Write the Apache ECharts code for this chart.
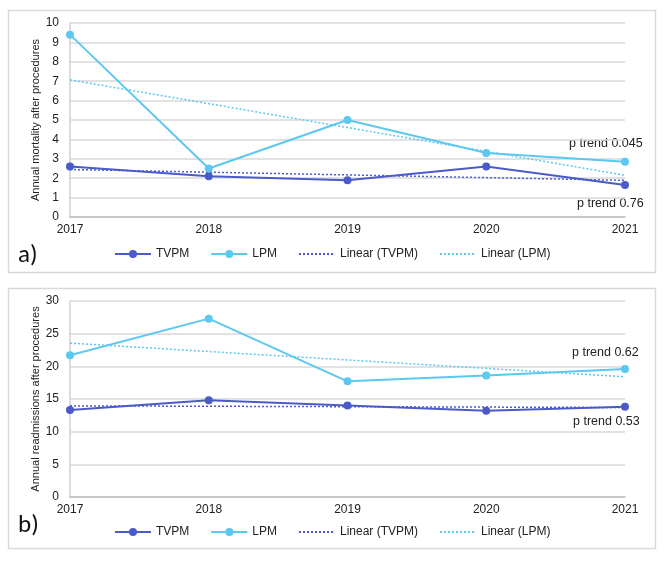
<!DOCTYPE html>
<html>
<head>
<meta charset="utf-8">
<script src="https://cdn.jsdelivr.net/npm/echarts@6/dist/echarts.min.js"></script>
<style>
html,body{margin:0;padding:0;background:#fff;}
#c{width:669px;height:573px;}
</style>
</head>
<body>
<div id="c"></div>
<script>
var years = ['2017', '2018', '2019', '2020', '2021'];
var mortTVPM = [2.6, 2.1, 1.9, 2.6, 1.65];
var mortLPM = [9.4, 2.5, 5.0, 3.3, 2.85];
var mortTrendTVPM = [['2017', 2.45], ['2021', 1.89]];
var mortTrendLPM = [['2017', 7.07], ['2021', 2.15]];
var readTVPM = [13.3, 14.8, 14.0, 13.2, 13.8];
var readLPM = [21.7, 27.3, 17.7, 18.6, 19.6];
var readTrendTVPM = [['2017', 13.95], ['2021', 13.7]];
var readTrendLPM = [['2017', 23.55], ['2021', 18.4]];
var mortTicks = [0, 10, 1];
var readTicks = [0, 30, 5];

var C1 = '#4a5bc9', C2 = '#5cc8f0';
var FONT = 'Liberation Sans, Arial, sans-serif';
var chart = echarts.init(document.getElementById('c'));

function xAxis(gi) {
  return {
    type: 'category', gridIndex: gi, data: years, boundaryGap: false,
    axisLine: {lineStyle: {color: '#bfbfbf', width: 1.5}},
    axisTick: {show: false},
    axisLabel: {color: '#222', fontSize: 12, fontFamily: FONT, margin: 7}
  };
}
function yAxis(gi, t, name) {
  return {
    type: 'value', gridIndex: gi, min: t[0], max: t[1], interval: t[2],
    name: name, nameLocation: 'middle', nameGap: 29, nameMoveOverlap: false,
    nameTextStyle: {color: '#222', fontSize: 11, fontFamily: FONT},
    axisLine: {show: true, lineStyle: {color: '#d0d0d0', width: 1.5}},
    axisTick: {show: false},
    splitLine: {lineStyle: {color: '#d9d9d9', width: 1.5}},
    axisLabel: {color: '#222', fontSize: 12, fontFamily: FONT, margin: 11}
  };
}
function lineS(name, data, color, gi) {
  return {
    name: name, type: 'line', xAxisIndex: gi, yAxisIndex: gi, data: data,
    symbol: 'circle', symbolSize: 8, color: color,
    lineStyle: {color: color, width: 2}, itemStyle: {color: color}, z: 3
  };
}
function trendS(name, data, color, gi) {
  return {
    name: name, type: 'line', xAxisIndex: gi, yAxisIndex: gi, data: data,
    symbol: 'none', showSymbol: false, color: color,
    lineStyle: {color: color, width: 1.5, type: [2, 2]}, z: 2
  };
}
function legend(top) {
  return {
    top: top, left: 109, itemWidth: 36, itemHeight: 10, itemGap: 21,
    textStyle: {color: '#222', fontSize: 12, fontFamily: FONT},
    data: ['TVPM', 'LPM',
      {name: 'Linear (TVPM)', itemStyle: {opacity: 0}},
      {name: 'Linear (LPM)', itemStyle: {opacity: 0}}]
  };
}
function ptxt(x, y, t) {
  return {type: 'text', left: x, top: y, style: {text: t, fill: '#222', font: '12.5px ' + FONT}};
}

chart.setOption({
  animation: false,
  grid: [
    {left: 70, right: 44, top: 23, height: 194},
    {left: 70, right: 44, top: 301, height: 196}
  ],
  xAxis: [xAxis(0), xAxis(1)],
  yAxis: [yAxis(0, mortTicks, 'Annual mortality after procedures'),
          yAxis(1, readTicks, 'Annual readmissions after procedures')],
  legend: [legend(243), legend(521)],
  series: [
    lineS('TVPM', mortTVPM, C1, 0),
    lineS('LPM', mortLPM, C2, 0),
    trendS('Linear (TVPM)', mortTrendTVPM, C1, 0),
    trendS('Linear (LPM)', mortTrendLPM, C2, 0),
    lineS('TVPM', readTVPM, C1, 1),
    lineS('LPM', readLPM, C2, 1),
    trendS('Linear (TVPM)', readTrendTVPM, C1, 1),
    trendS('Linear (LPM)', readTrendLPM, C2, 1)
  ],
  graphic: [
    {type: 'rect', shape: {x: 8.5, y: 10.5, width: 647, height: 262}, style: {fill: 'none', stroke: '#d9d9d9', lineWidth: 1.5}, silent: true},
    {type: 'rect', shape: {x: 8.5, y: 288.5, width: 647, height: 260}, style: {fill: 'none', stroke: '#d9d9d9', lineWidth: 1.5}, silent: true},
    {type: 'text', left: 18, top: 243, style: {text: 'a)', fill: '#111', font: '25px Calibri, Carlito, Liberation Sans, sans-serif'}},
    {type: 'text', left: 18, top: 513, style: {text: 'b)', fill: '#111', font: '25px Calibri, Carlito, Liberation Sans, sans-serif'}},
    ptxt(569, 137, 'p trend 0.045'),
    ptxt(577, 197, 'p trend 0.76'),
    ptxt(572, 346, 'p trend 0.62'),
    ptxt(573, 415, 'p trend 0.53')
  ]
});
</script>
</body>
</html>
